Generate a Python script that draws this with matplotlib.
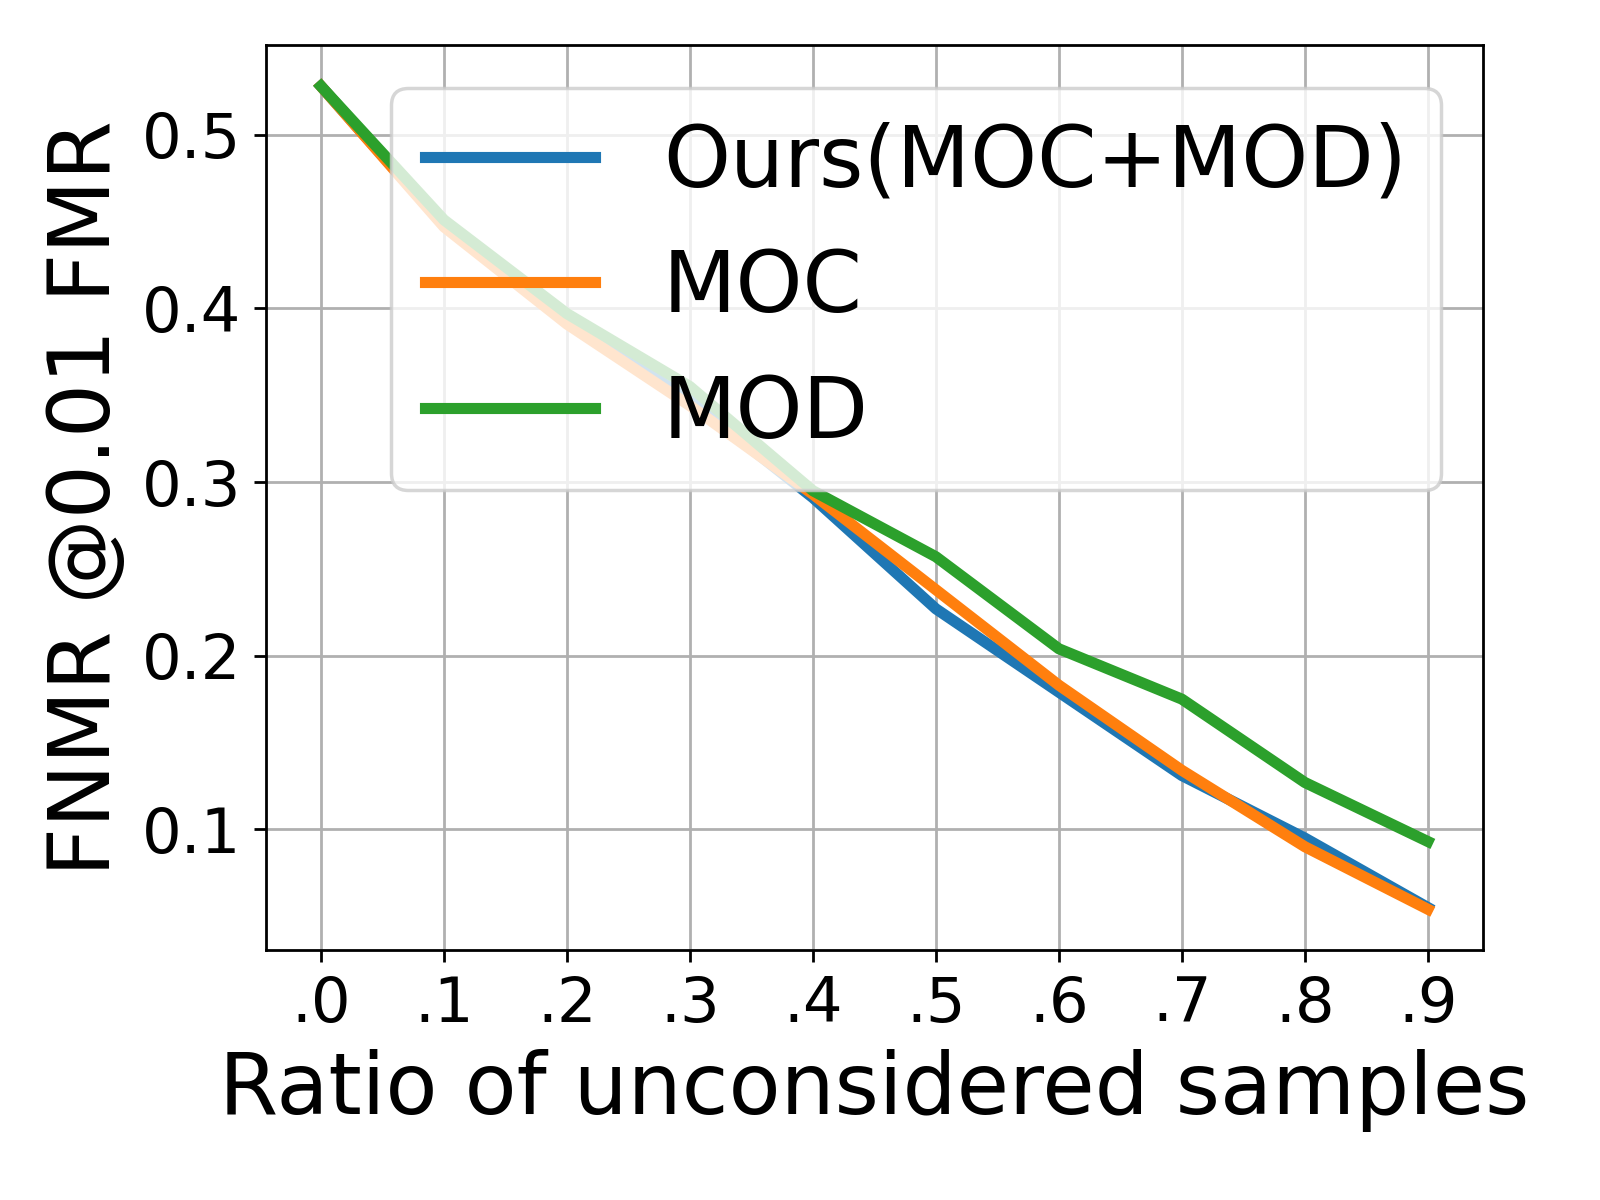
import numpy as np
import matplotlib
matplotlib.use("Agg")
import matplotlib.pyplot as plt

ratios = [0.0, 0.1, 0.2, 0.3, 0.4, 0.5, 0.6, 0.7, 0.8, 0.9]
tick_labels = [".0", ".1", ".2", ".3", ".4", ".5", ".6", ".7", ".8", ".9"]
ours = [0.528, 0.448, 0.393, 0.347, 0.291, 0.227, 0.179, 0.131, 0.095, 0.055]
moc = [0.528, 0.447, 0.391, 0.344, 0.293, 0.238, 0.183, 0.134, 0.090, 0.054]
mod = [0.528, 0.451, 0.397, 0.355, 0.295, 0.257, 0.204, 0.175, 0.127, 0.093]

fig, ax = plt.subplots(figsize=(6.4, 4.8), dpi=250)
fig.subplots_adjust(left=0.166, right=0.927, top=0.9625, bottom=0.208)

ax.plot(ratios, ours, color="tab:blue", linewidth=3.2, label="Ours(MOC+MOD)")
ax.plot(ratios, moc, color="tab:orange", linewidth=3.2, label="MOC")
ax.plot(ratios, mod, color="tab:green", linewidth=3.2, label="MOD")

ax.set_xticks(ratios)
ax.set_xticklabels(tick_labels)
ax.set_yticks([0.1, 0.2, 0.3, 0.4, 0.5])
ax.tick_params(labelsize=18)
ax.grid(True)
ax.set_xlabel("Ratio of unconsidered samples", fontsize=24.5)
ax.set_ylabel("FNMR @0.01 FMR", fontsize=24.5)
ax.legend(loc="upper right", fontsize=24.5)

plt.savefig("out.png")
plt.close()
